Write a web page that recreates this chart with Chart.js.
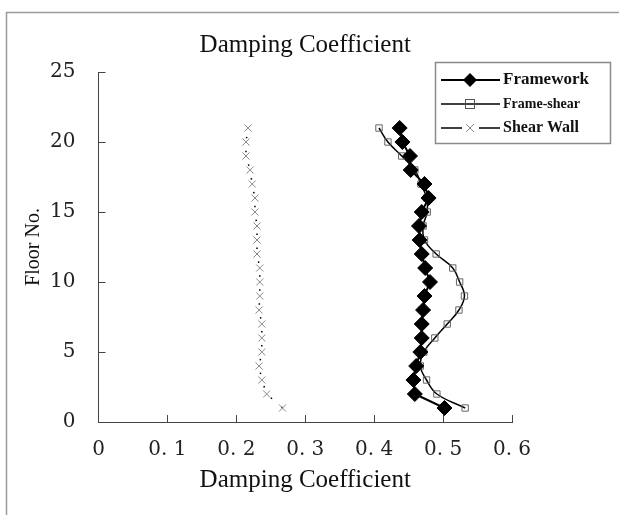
<!DOCTYPE html>
<html><head><meta charset="utf-8">
<script src="https://cdn.jsdelivr.net/npm/chart.js@4.4.1/dist/chart.umd.min.js"></script>
<style>html,body{margin:0;padding:0;background:#fff}#wrap{position:relative;width:619px;height:515px}</style>
</head><body><div id="wrap"><canvas id="c" width="619" height="515"></canvas></div>
<script>
const floors = [1,2,3,4,5,6,7,8,9,10,11,12,13,14,15,16,17,18,19,20,21];
const framework = [0.502,0.459,0.457,0.461,0.467,0.469,0.469,0.471,0.473,0.481,0.474,0.469,0.466,0.465,0.469,0.479,0.473,0.453,0.452,0.441,0.437];
const frameShear = [0.532,0.491,0.476,0.467,0.472,0.488,0.506,0.523,0.531,0.524,0.514,0.490,0.473,0.471,0.477,0.476,0.468,0.459,0.440,0.420,0.407];
const shearWall = [0.267,0.244,0.237,0.233,0.237,0.237,0.237,0.233,0.234,0.234,0.234,0.230,0.230,0.230,0.227,0.227,0.223,0.220,0.214,0.214,0.217];
const seriesNames = ['Framework','Frame-shear','Shear Wall'];
const xTickValues = [0,0.1,0.2,0.3,0.4,0.5,0.6];
const xTickLabels = ['0','0. 1','0. 2','0. 3','0. 4','0. 5','0. 6'];
const yTickValues = [0,5,10,15,20,25];
const titleText = 'Damping Coefficient';
const xTitle = 'Damping Coefficient';
const yTitle = 'Floor No.';

const pts = arr => arr.map((v,i)=>({x:v,y:floors[i]}));
const SERIF = '"Liberation Serif", "DejaVu Serif", serif';
const TICKF = '"DejaVu Serif", serif';

const decor = {
  id:'decor',
  beforeDraw(chart){
    const ctx = chart.ctx;
    ctx.save();
    ctx.strokeStyle = '#9a9a9a'; ctx.lineWidth = 1.5;
    ctx.strokeRect(6.5, 12.5, 700, 700);
    ctx.fillStyle = '#111';
    ctx.font = '25px ' + SERIF;
    ctx.textAlign = 'center'; ctx.textBaseline = 'middle';
    const ca = chart.chartArea;
    ctx.fillText(titleText, (ca.left+ca.right)/2, 45);
    ctx.restore();
  },
  beforeDatasetsDraw(chart){
    const ctx = chart.ctx, ca = chart.chartArea;
    const xs = chart.scales.x, ys = chart.scales.y;
    ctx.save();
    ctx.strokeStyle = '#444'; ctx.lineWidth = 1;
    ctx.beginPath();
    xTickValues.forEach(v=>{ if(v===0) return; const px = Math.round(xs.getPixelForValue(v))+0.5; ctx.moveTo(px, ca.bottom); ctx.lineTo(px, ca.bottom-7); });
    yTickValues.forEach(v=>{ if(v===0) return; const py = Math.round(ys.getPixelForValue(v))+0.5; ctx.moveTo(ca.left, py); ctx.lineTo(ca.left+7, py); });
    ctx.stroke();
    ctx.restore();
  },
  afterDraw(chart){
    const ctx = chart.ctx;
    ctx.save();
    const bx = 435.5, by = 62.5, bw = 175, bh = 81;
    ctx.fillStyle = '#fff';
    ctx.fillRect(bx, by, bw, bh);
    ctx.strokeStyle = '#8a8a8a'; ctx.lineWidth = 1.5;
    ctx.strokeRect(bx, by, bw, bh);
    const x0 = 441, x1 = 500, xm = 470;
    const rows = [80, 104, 128];
    // Framework
    ctx.strokeStyle = '#000'; ctx.lineWidth = 2;
    ctx.beginPath(); ctx.moveTo(x0, rows[0]); ctx.lineTo(x1, rows[0]); ctx.stroke();
    ctx.fillStyle = '#000';
    ctx.beginPath(); ctx.moveTo(xm, rows[0]-7); ctx.lineTo(xm+7, rows[0]); ctx.lineTo(xm, rows[0]+7); ctx.lineTo(xm-7, rows[0]); ctx.closePath(); ctx.fill();
    // Frame-shear
    ctx.lineWidth = 1.5;
    ctx.beginPath(); ctx.moveTo(x0, rows[1]); ctx.lineTo(x1, rows[1]); ctx.stroke();
    ctx.strokeStyle = '#555'; ctx.lineWidth = 1;
    ctx.strokeRect(xm-4.5, rows[1]-4.5, 9, 9);
    // Shear wall
    ctx.strokeStyle = '#000'; ctx.lineWidth = 1.5;
    ctx.beginPath(); ctx.moveTo(x0, rows[2]); ctx.lineTo(x0+21, rows[2]); ctx.moveTo(x1-21, rows[2]); ctx.lineTo(x1, rows[2]); ctx.stroke();
    ctx.strokeStyle = '#888'; ctx.lineWidth = 1;
    ctx.beginPath(); ctx.moveTo(xm-4, rows[2]-4); ctx.lineTo(xm+4, rows[2]+4); ctx.moveTo(xm+4, rows[2]-4); ctx.lineTo(xm-4, rows[2]+4); ctx.stroke();
    ctx.fillStyle = '#111'; ctx.textAlign = 'left'; ctx.textBaseline = 'middle';
    ctx.font = 'bold 17px ' + SERIF; ctx.fillText(seriesNames[0], 503, rows[0]);
    ctx.font = 'bold 14px ' + SERIF; ctx.fillText(seriesNames[1], 503, rows[1]);
    ctx.font = 'bold 16px ' + SERIF; ctx.fillText(seriesNames[2], 503, rows[2]);
    ctx.restore();
  }
};

new Chart(document.getElementById('c'), {
  type:'line',
  data:{ datasets:[
    { label:seriesNames[0], data:pts(framework), borderColor:'#000', borderWidth:2, tension:0,
      pointStyle:'rectRot', pointRadius:7.5, pointBackgroundColor:'#000', pointBorderColor:'#000', pointBorderWidth:1 },
    { label:seriesNames[1], data:pts(frameShear), borderColor:'#000', borderWidth:1.5, tension:0.4,
      pointStyle:'rect', pointRadius:4.5, pointBackgroundColor:'rgba(255,255,255,0)', pointBorderColor:'#666', pointBorderWidth:1 },
    { label:seriesNames[2], data:pts(shearWall), borderColor:'#000', borderWidth:1.5, borderDash:[1.5,12.5], tension:0,
      pointStyle:'crossRot', pointRadius:5, pointBorderColor:'#888', pointBorderWidth:1 }
  ]},
  options:{
    responsive:false, animation:false, devicePixelRatio:1,
    layout:{ padding:{ left:0, right:107, top:72, bottom:0 } },
    plugins:{ legend:{display:false}, title:{display:false}, tooltip:{enabled:false} },
    scales:{
      x:{ type:'linear', min:0, max:0.6,
        afterBuildTicks: s => { s.ticks = xTickValues.map(v=>({value:v})); },
        afterFit: s => { s.height = 93; },
        grid:{ display:true, drawOnChartArea:false, drawTicks:false },
        border:{ display:true, color:'#444', width:1 },
        ticks:{ padding:16, color:'#222', font:{family:TICKF, size:20}, maxRotation:0, autoSkip:false,
          callback:(v)=> xTickLabels[Math.round(v*10)] },
        title:{ display:true, text:xTitle, color:'#111', font:{family:SERIF, size:25}, padding:{top:0,bottom:20} }
      },
      y:{ type:'linear', min:0, max:25,
        afterBuildTicks: s => { s.ticks = yTickValues.map(v=>({value:v})); },
        afterFit: s => { s.width = 98.5; },
        grid:{ display:true, drawOnChartArea:false, drawTicks:false },
        border:{ display:true, color:'#444', width:1 },
        ticks:{ padding:23, color:'#222', font:{family:TICKF, size:20}, autoSkip:false },
        title:{ display:true, text:yTitle, color:'#111', font:{family:SERIF, size:20}, padding:{top:22,bottom:0} }
      }
    }
  },
  plugins:[decor]
});
</script>
</body></html>
